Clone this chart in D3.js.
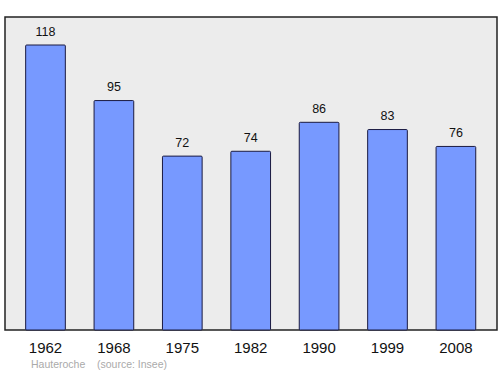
<!DOCTYPE html>
<html>
<head>
<meta charset="utf-8">
<script src="https://cdn.jsdelivr.net/npm/d3@7"></script>
<style>
body { margin: 0; background: #fff; }
text { font-family: "Liberation Sans", Arial, sans-serif; }
</style>
</head>
<body>
<svg width="500" height="374"></svg>
<script>
// Data
var years = ["1962", "1968", "1975", "1982", "1990", "1999", "2008"];
var population = [118, 95, 72, 74, 86, 83, 76];
var commune = "Hauteroche";
var source = "(source: Insee)";

var svg = d3.select("svg");

var frame = { left: 5, top: 17, right: 497, bottom: 330 };

var x = d3.scaleBand()
	.domain(years)
	.range([11.3, 490.1])
	.paddingInner(0.42)
	.paddingOuter(0.21);

var y = d3.scaleLinear()
	.domain([0, 129.6])
	.range([frame.bottom, frame.top]);

// Background frame
svg.append("rect")
	.attr("x", frame.left)
	.attr("y", frame.top)
	.attr("width", frame.right - frame.left)
	.attr("height", frame.bottom - frame.top)
	.attr("fill", "#ececec")
	.attr("stroke", "#222")
	.attr("stroke-width", 1.5);

var data = years.map((yr, i) => ({ year: yr, value: population[i] }));

// Bars
svg.append("g")
	.selectAll("rect")
	.data(data)
	.enter().append("rect")
	.attr("x", (d) => x(d.year))
	.attr("y", (d) => y(d.value))
	.attr("width", x.bandwidth())
	.attr("height", (d) => y(0) - y(d.value))
	.attr("rx", 1)
	.attr("fill", "#7799ff")
	.attr("stroke", "#1a1a40")
	.attr("stroke-width", 1);

// Value labels
svg.append("g")
	.selectAll("text")
	.data(data)
	.enter().append("text")
	.attr("x", (d) => x(d.year) + x.bandwidth() / 2)
	.attr("y", (d) => y(d.value) - 9.5)
	.attr("text-anchor", "middle")
	.attr("font-size", 12.5)
	.attr("fill", "#111")
	.text((d) => d.value);

// Year axis labels
svg.append("g")
	.selectAll("text")
	.data(years)
	.enter().append("text")
	.attr("x", (d) => x(d) + x.bandwidth() / 2)
	.attr("y", 353)
	.attr("text-anchor", "middle")
	.attr("font-size", 15)
	.attr("fill", "#111")
	.text((d) => d);

// Footer
svg.append("text")
	.attr("x", 31)
	.attr("y", 368)
	.attr("font-size", 10.5)
	.attr("fill", "#aaa")
	.text(commune);

svg.append("text")
	.attr("x", 97)
	.attr("y", 368)
	.attr("font-size", 10.5)
	.attr("fill", "#aaa")
	.text(source);
</script>
</body>
</html>
